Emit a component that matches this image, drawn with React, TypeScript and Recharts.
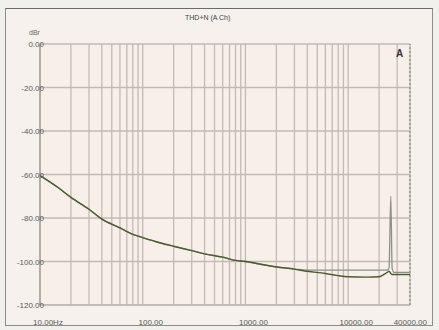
import { LineChart, Line, XAxis, YAxis, CartesianGrid, ReferenceLine } from 'recharts';

// frequency response of THD+N, two channels
const freqs = [10, 15, 20, 30, 40, 60, 80, 100, 150, 200, 300, 400, 600, 800, 1000, 1500, 2000, 3000, 4000, 6000, 8000, 10000, 15000, 20000, 24000, 25000, 26000, 26800, 28000, 32000, 40000];
const chA = [-60.5, -66, -70.5, -76, -80.5, -84.5, -87.5, -89, -91.5, -93, -95, -96.5, -98, -99.5, -100, -101.5, -102.5, -103.5, -104.5, -105.5, -106.5, -107, -107.2, -107, -105, -104.5, -105.5, -106, -106, -106, -106];
const chB = [-60.5, -66, -70.5, -76, -80.5, -84.5, -87.5, -89, -91.5, -93, -95, -96.5, -98, -99.5, -100, -101.5, -102.5, -103.5, -104, -104, -104, -104, -104, -104, -104, -103, -70, -103, -105, -105, -105];

const xMajor = [10, 100, 1000, 10000, 40000];
const xLabels = ['10.00Hz', '100.00', '1000.00', '10000.00', '40000.00'];
const xGrid = [10, 20, 30, 40, 50, 60, 70, 80, 90, 100, 200, 300, 400, 500, 600, 700, 800, 900, 1000, 2000, 3000, 4000, 5000, 6000, 7000, 8000, 9000, 10000, 20000, 30000, 40000];
const yTicks = [0, -20, -40, -60, -80, -100, -120];
const yLabels = ['0.00', '-20.00', '-40.00', '-60.00', '-80.00', '-100.00', '-120.00'];

const data = freqs.map((f, i) => ({ f, a: chA[i], b: chB[i] }));

const font = '"Liberation Sans", Arial, sans-serif';

function XTick(props: any) {
  const { x, y, payload } = props;
  const idx = xMajor.indexOf(payload.value);
  if (idx < 0) return null;
  const last = idx === xMajor.length - 1;
  return (
    <text x={last ? x + 17 : x + 8} y={y + 12} textAnchor={last ? 'end' : 'middle'} fontSize={8} fill="#5a5a5a" fontFamily={font}>
      {xLabels[idx]}
    </text>
  );
}

function YTick(props: any) {
  const { x, y, payload } = props;
  const idx = yTicks.indexOf(payload.value);
  return (
    <text x={x + 12} y={y + 3} textAnchor="end" fontSize={8} fill="#5a5a5a" fontFamily={font}>
      {yLabels[idx]}
    </text>
  );
}

export default function App() {
  return (
    <div style={{ position: 'fixed', left: 0, top: 0, width: 439, height: 330, background: '#f2f0ed', overflow: 'hidden' }}>
      <div style={{ position: 'absolute', left: 5, top: 8, width: 428, height: 318, border: '1.5px solid #8d8d8a', borderTopColor: '#6b6b69', background: '#f6f1ec', boxSizing: 'border-box' }} />
      <LineChart
        width={439}
        height={330}
        data={data}
        margin={{ top: 44, right: 29, bottom: 0, left: 0 }}
        style={{ position: 'absolute', left: 0, top: 0 }}
      >
        <CartesianGrid stroke="#c2bab5" strokeWidth={1.3} fill="#f7efe8" />
        <XAxis
          dataKey="f"
          type="number"
          scale="log"
          domain={[10, 40000]}
          ticks={xGrid}
          interval={0}
          tick={<XTick />}
          tickLine={false}
          axisLine={{ stroke: '#b8b2ad' }}
          height={25}
          allowDataOverflow
        />
        <YAxis
          type="number"
          domain={[-120, 0]}
          ticks={yTicks}
          interval={0}
          tick={<YTick />}
          tickLine={false}
          axisLine={{ stroke: '#8c8c88' }}
          width={40}
        />
        <ReferenceLine x={40000} stroke="#8aa080" strokeDasharray="2 2" strokeWidth={1.5} />
        <Line type="monotone" dataKey="b" stroke="#8e918a" strokeWidth={1.3} dot={false} isAnimationActive={false} />
        <Line type="monotone" dataKey="a" stroke="#4d5a34" strokeWidth={1.4} dot={false} isAnimationActive={false} />
      </LineChart>
      <div style={{ position: 'absolute', left: 185, top: 14, fontSize: 7, color: '#444', fontFamily: font }}>THD+N (A Ch)</div>
      <div style={{ position: 'absolute', left: 29, top: 29, fontSize: 7, color: '#666', fontFamily: font }}>dBr</div>
      <div style={{ position: 'absolute', left: 396, top: 48, fontSize: 10, fontWeight: 'bold', color: '#333', fontFamily: font }}>A</div>
    </div>
  );
}
